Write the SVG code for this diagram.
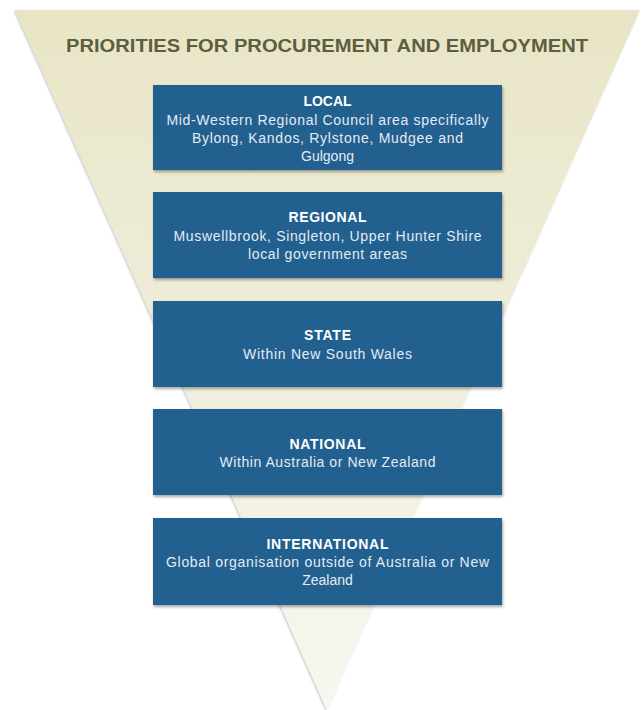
<svg xmlns="http://www.w3.org/2000/svg" width="642" height="710" viewBox="0 0 642 710">
<defs>
<linearGradient id="tri" x1="0" y1="0" x2="0" y2="1">
<stop offset="0" stop-color="#e8e5c6"/>
<stop offset="1" stop-color="#f7f7f0"/>
</linearGradient>
<filter id="sh" x="-5%" y="-5%" width="112%" height="120%">
<feGaussianBlur in="SourceAlpha" stdDeviation="1.5"/>
<feOffset dx="1" dy="2" result="b"/>
<feComponentTransfer><feFuncA type="linear" slope="0.35"/></feComponentTransfer>
<feMerge><feMergeNode/><feMergeNode in="SourceGraphic"/></feMerge>
</filter>
<filter id="tsh" x="-5%" y="-5%" width="110%" height="110%">
<feGaussianBlur in="SourceAlpha" stdDeviation="1.2"/>
<feOffset dx="-1" dy="1" result="b"/>
<feComponentTransfer><feFuncA type="linear" slope="0.25"/></feComponentTransfer>
<feMerge><feMergeNode/><feMergeNode in="SourceGraphic"/></feMerge>
</filter>
</defs>
<style>
.box{fill:#23608f;filter:url(#sh)}
.hd{font-family:"Liberation Sans",Arial,sans-serif;font-weight:bold;font-size:14px;fill:#ffffff;text-anchor:middle}
.tx{font-family:"Liberation Sans",Arial,sans-serif;font-size:14px;fill:#e4ebf2;text-anchor:middle}
.title{font-family:"Liberation Sans",Arial,sans-serif;font-weight:bold;font-size:18px;fill:#5d5d40;text-anchor:middle}
</style>
<rect width="642" height="710" fill="#ffffff"/>
<g id="funnel">
<polygon points="15,10 640,10 327,710" fill="url(#tri)" filter="url(#tsh)"/>
<text class="title" x="327" y="52" textLength="522" lengthAdjust="spacingAndGlyphs">PRIORITIES FOR PROCUREMENT AND EMPLOYMENT</text>
</g>
<g id="connectors"></g>
<g id="local">
<rect class="box" x="153" y="85" width="349" height="85"/>
<text class="hd" x="327.5" y="106">LOCAL</text>
<text class="tx" x="327.5" y="125" textLength="322" lengthAdjust="spacing">Mid-Western Regional Council area specifically</text>
<text class="tx" x="327.5" y="143" textLength="271" lengthAdjust="spacing">Bylong, Kandos, Rylstone, Mudgee and</text>
<text class="tx" x="327.5" y="161">Gulgong</text>
</g>
<g id="regional">
<rect class="box" x="153" y="192" width="349" height="86"/>
<text class="hd" x="327.5" y="222" textLength="78" lengthAdjust="spacing">REGIONAL</text>
<text class="tx" x="327.5" y="241" textLength="308" lengthAdjust="spacing">Muswellbrook, Singleton, Upper Hunter Shire</text>
<text class="tx" x="327.5" y="259" textLength="159" lengthAdjust="spacing">local government areas</text>
</g>
<g id="state">
<rect class="box" x="153" y="301" width="349" height="86"/>
<text class="hd" x="327.5" y="340" textLength="47" lengthAdjust="spacing">STATE</text>
<text class="tx" x="327.5" y="359" textLength="169" lengthAdjust="spacing">Within New South Wales</text>
</g>
<g id="national">
<rect class="box" x="153" y="409" width="349" height="86"/>
<text class="hd" x="327.5" y="449" textLength="76" lengthAdjust="spacing">NATIONAL</text>
<text class="tx" x="327.5" y="467" textLength="216" lengthAdjust="spacing">Within Australia or New Zealand</text>
</g>
<g id="international">
<rect class="box" x="153" y="518" width="349" height="87"/>
<text class="hd" x="327.5" y="549" textLength="122" lengthAdjust="spacing">INTERNATIONAL</text>
<text class="tx" x="327.5" y="567" textLength="323" lengthAdjust="spacing">Global organisation outside of Australia or New</text>
<text class="tx" x="327.5" y="585">Zealand</text>
</g>
</svg>
